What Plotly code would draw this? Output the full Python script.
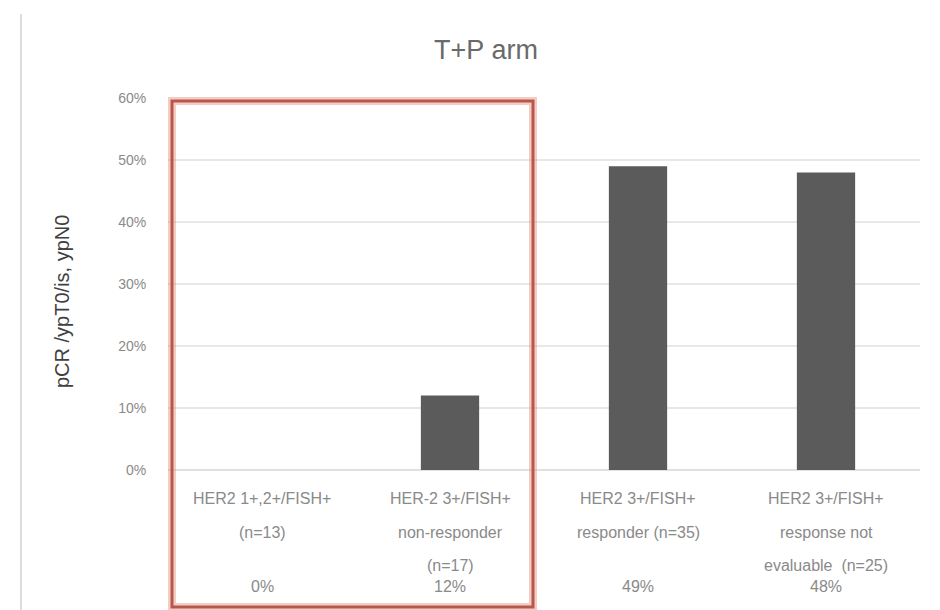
import plotly.graph_objects as go

# pCR rate per HER2 subgroup, T+P arm
categories = ["c1", "c2", "c3", "c4"]
label_lines = [
    ["HER2 1+,2+/FISH+", "(n=13)", ""],
    ["HER-2 3+/FISH+", "non-responder", "(n=17)"],
    ["HER2 3+/FISH+", "responder (n=35)", ""],
    ["HER2 3+/FISH+", "response not", "evaluable  (n=25)"],
]
pcr_rate = [0.0, 0.12, 0.49, 0.48]
y_ticks = [0.0, 0.1, 0.2, 0.3, 0.4, 0.5, 0.6]

W, H = 940, 610
M_L, M_R, M_T, M_B = 168, 20, 98, 140
plot_h = H - M_T - M_B
plot_w = W - M_L - M_R

FONT = "Liberation Sans, Arial, sans-serif"
LABEL_GREY = "#8a8a8a"

fig = go.Figure(
    go.Bar(
        x=categories,
        y=pcr_rate,
        marker=dict(color="#5b5b5b", line=dict(width=0)),
        width=0.31,
        hoverinfo="skip",
    )
)

annotations = []
# multi-line category labels, spaced like the slide
line_offsets = [28, 62, 95]
for cat, lines in zip(categories, label_lines):
    for off, txt in zip(line_offsets, lines):
        if not txt:
            continue
        annotations.append(dict(
            x=cat, xref="x", y=0, yref="paper", yshift=-off,
            text=txt, showarrow=False, xanchor="center", yanchor="middle",
            font=dict(family=FONT, size=16, color=LABEL_GREY),
        ))
# value line under each label
for cat, v in zip(categories, pcr_rate):
    annotations.append(dict(
        x=cat, xref="x", y=0, yref="paper", yshift=-116,
        text=f"{v:.0%}", showarrow=False, xanchor="center", yanchor="middle",
        font=dict(family=FONT, size=16, color=LABEL_GREY),
    ))
# y-axis title
annotations.append(dict(
    x=0, xref="paper", xshift=-(M_L - 62), y=(470 - 302) / plot_h, yref="paper",
    text="pCR /ypT0/is, ypN0", textangle=-90, showarrow=False,
    xanchor="center", yanchor="middle",
    font=dict(family=FONT, size=20, color="#404040"),
))

def px_x(px):
    return (px - M_L) / plot_w

def px_y(py):
    return (H - M_B - py) / plot_h

shapes = [
    # slide frame line on the left
    dict(type="line", xref="paper", yref="paper",
         x0=px_x(21), x1=px_x(21), y0=px_y(610), y1=px_y(14),
         line=dict(color="#dcdcdc", width=2), layer="below"),
    # highlight box around the first two groups (soft halo + stroke)
    dict(type="rect", xref="paper", yref="paper",
         x0=px_x(172), x1=px_x(533), y0=px_y(607), y1=px_y(101),
         line=dict(color="rgba(235,140,125,0.45)", width=8)),
    dict(type="rect", xref="paper", yref="paper",
         x0=px_x(172), x1=px_x(533), y0=px_y(607), y1=px_y(101),
         line=dict(color="#b35a4c", width=3)),
]

fig.update_layout(
    width=W, height=H,
    margin=dict(l=M_L, r=M_R, t=M_T, b=M_B),
    paper_bgcolor="white", plot_bgcolor="white",
    showlegend=False,
    title=dict(text="T+P arm", x=486 / W, xref="container", xanchor="center",
               y=1 - 50 / H, yref="container", yanchor="middle",
               font=dict(family=FONT, size=27, color="#6a6a6a")),
    xaxis=dict(showticklabels=False, showgrid=False, zeroline=False,
               showline=False, ticks=""),
    yaxis=dict(range=[0, 0.6], tickvals=y_ticks, tickformat=".0%",
               showgrid=True, gridcolor="#e8e8e8", gridwidth=1.5,
               zeroline=True, zerolinecolor="#e0e0e0", zerolinewidth=1.5,
               showline=False, ticks="outside", ticklen=18, tickcolor="white",
               tickfont=dict(family=FONT, size=14, color=LABEL_GREY)),
    annotations=annotations,
    shapes=shapes,
    bargap=0.69,
)

fig.write_html("out.html")
